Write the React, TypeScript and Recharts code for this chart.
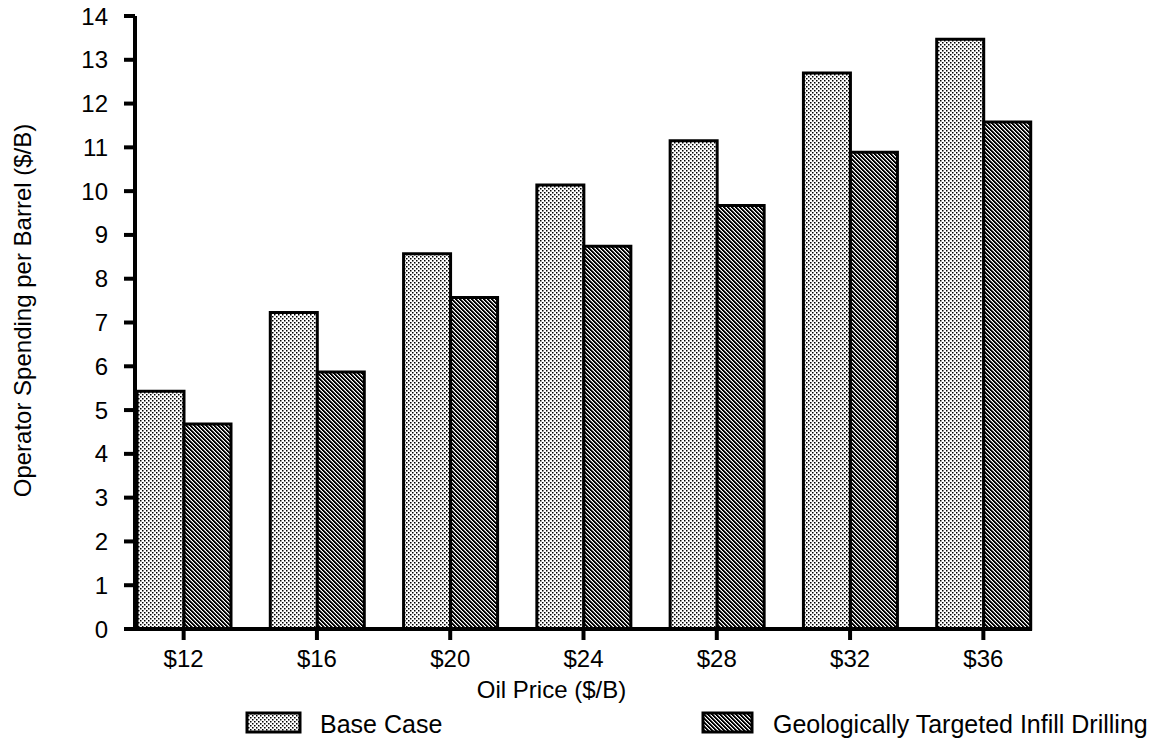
import { BarChart, Bar, XAxis, YAxis, Legend } from 'recharts';

document.body.style.margin = '0';

const prices = ['$12', '$16', '$20', '$24', '$28', '$32', '$36'];
const baseCase = [5.43, 7.23, 8.57, 10.14, 11.15, 12.7, 13.47];
const infill = [4.68, 5.87, 7.57, 8.74, 9.67, 10.89, 11.58];
const yTicks = [0, 1, 2, 3, 4, 5, 6, 7, 8, 9, 10, 11, 12, 13, 14];

const data = prices.map((price, i) => ({ price, base: baseCase[i], infill: infill[i] }));

const FONT = '"Liberation Sans", Arial, Helvetica, sans-serif';
const axisLine = { stroke: '#000', strokeWidth: 4 };
const tickText = { fill: '#000', fontSize: 24, fontFamily: FONT };

const legendSpots = [
  { box: 247, boxW: 53, text: 320 },
  { box: 703, boxW: 49, text: 773 },
];

const renderLegend = (props) => {
  const { payload = [] } = props;
  return (
    <svg width={1157} height={42} style={{ display: 'block' }}>
      {payload.map((entry, i) => {
        const spot = legendSpots[i];
        if (!spot) return null;
        return (
          <g key={entry.value}>
            <rect x={spot.box} y={14} width={spot.boxW} height={19} fill={entry.color} stroke="#000" strokeWidth={3} />
            <text x={spot.text} y={34} fontSize={25} fontFamily={FONT} fill="#000">
              {entry.value}
            </text>
          </g>
        );
      })}
    </svg>
  );
};

const YLabel = (props) => {
  const { viewBox } = props;
  const cx = 22;
  const cy = viewBox.y + viewBox.height / 2 - 12;
  return (
    <text x={cx} y={cy} transform={`rotate(-90, ${cx}, ${cy})`} textAnchor="middle" dominantBaseline="central" fontSize={24} fontFamily={FONT} fill="#000">
      Operator Spending per Barrel ($/B)
    </text>
  );
};

export default function App() {
  return (
    <div style={{ width: 1157, height: 741, background: '#fff', fontFamily: FONT }}>
      <BarChart
        width={1157}
        height={741}
        data={data}
        margin={{ top: 16, right: 125, bottom: 0, left: 0 }}
        barCategoryGap={20}
        barGap={0}
      >
        <defs>
          <pattern id="dots" width="4" height="4" patternUnits="userSpaceOnUse">
            <rect width="4" height="4" fill="#fff" />
            <rect x="0" y="0" width="1.5" height="1.5" fill="#000" />
            <rect x="2" y="2" width="1.5" height="1.5" fill="#000" />
          </pattern>
          <pattern id="hatch" width="4" height="4" patternUnits="userSpaceOnUse">
            <rect width="4" height="4" fill="#fff" />
            <rect x="0" y="0" width="2.5" height="1" fill="#000" />
            <rect x="1" y="1" width="2.5" height="1" fill="#000" />
            <rect x="2" y="2" width="2" height="1" fill="#000" />
            <rect x="3" y="3" width="1" height="1" fill="#000" />
            <rect x="0" y="3" width="1.5" height="1" fill="#000" />
            <rect x="0" y="2" width="0.5" height="1" fill="#000" />
          </pattern>
        </defs>
        <XAxis
          dataKey="price"
          height={70}
          padding={{ left: -18, right: -18 }}
          axisLine={axisLine}
          tickLine={axisLine}
          tickSize={11}
          tickMargin={10}
          tick={tickText}
          label={{ value: 'Oil Price ($/B)', position: 'center', dx: -32, dy: 25, fill: '#000', fontSize: 24, fontFamily: FONT }}
        />
        <XAxis xAxisId="top" orientation="top" dataKey="price" height={0} axisLine={axisLine} tick={false} tickLine={false} />
        <YAxis
          domain={[0, 14]}
          ticks={yTicks}
          interval={0}
          width={135}
          axisLine={axisLine}
          tickLine={axisLine}
          tickSize={11}
          tickMargin={16}
          tick={tickText}
          label={<YLabel />}
        />
        <YAxis yAxisId="right" orientation="right" domain={[0, 14]} width={0} axisLine={axisLine} tick={false} tickLine={false} />
        <Legend verticalAlign="bottom" content={renderLegend} wrapperStyle={{ height: 42 }} />
        <Bar dataKey="base" name="Base Case" fill="url(#dots)" stroke="#000" strokeWidth={3} isAnimationActive={false} />
        <Bar dataKey="infill" name="Geologically Targeted Infill Drilling" fill="url(#hatch)" stroke="#000" strokeWidth={3} isAnimationActive={false} />
      </BarChart>
    </div>
  );
}
